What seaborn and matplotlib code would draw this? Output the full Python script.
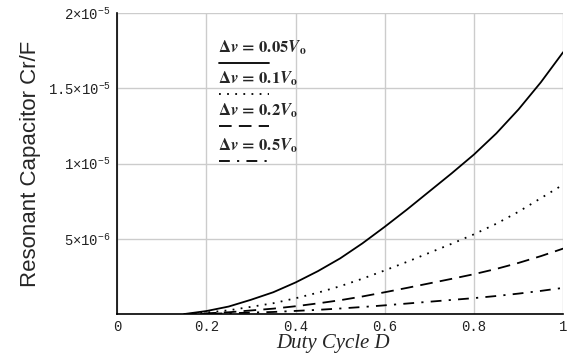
import numpy as np
import pandas as pd
import matplotlib
matplotlib.use('Agg')
import matplotlib.pyplot as plt
import seaborn as sns

duty = [0.15, 0.2, 0.25, 0.3, 0.35, 0.4, 0.45, 0.5, 0.55, 0.6,
        0.65, 0.7, 0.75, 0.8, 0.85, 0.9, 0.95, 1.0]

# resonant capacitor (uF) for each ripple level
cr_005 = [0.0, 0.2, 0.5, 0.95, 1.45, 2.1, 2.85, 3.7, 4.7, 5.8,
          6.95, 8.15, 9.35, 10.6, 12.0, 13.6, 15.4, 17.4]
cr_01 = [0.0, 0.1, 0.25, 0.48, 0.72, 1.05, 1.42, 1.85, 2.35, 2.9,
         3.47, 4.07, 4.67, 5.3, 6.0, 6.8, 7.7, 8.6]
cr_02 = [0.0, 0.05, 0.12, 0.24, 0.36, 0.52, 0.71, 0.92, 1.17, 1.45,
         1.74, 2.04, 2.34, 2.65, 3.0, 3.4, 3.85, 4.35]
cr_05 = [0.0, 0.02, 0.05, 0.1, 0.14, 0.21, 0.28, 0.37, 0.47, 0.58,
         0.7, 0.82, 0.94, 1.06, 1.2, 1.36, 1.54, 1.74]

series_names = ['0.05', '0.1', '0.2', '0.5']
legend_labels = [r'$\mathbf{\Delta}\mathbfit{v}\,\mathbf{=\,0.05}\mathbfit{V}_{\mathbf{o}}$',
                 r'$\mathbf{\Delta}\mathbfit{v}\,\mathbf{=\,0.1}\mathbfit{V}_{\mathbf{o}}$',
                 r'$\mathbf{\Delta}\mathbfit{v}\,\mathbf{=\,0.2}\mathbfit{V}_{\mathbf{o}}$',
                 r'$\mathbf{\Delta}\mathbfit{v}\,\mathbf{=\,0.5}\mathbfit{V}_{\mathbf{o}}$']

x_ticks = [0, 0.2, 0.4, 0.6, 0.8, 1]
x_tick_labels = ['0', '0.2', '0.4', '0.6', '0.8', '1']
y_ticks = [0, 5e-6, 1e-5, 1.5e-5, 2e-5]
y_tick_labels = ['', r'$5{\times}10^{-6}$', r'$1{\times}10^{-5}$',
                 r'$1.5{\times}10^{-5}$', r'$2{\times}10^{-5}$']

df = pd.DataFrame({
    'D': duty * 4,
    'Cr': [v * 1e-6 for v in cr_005 + cr_01 + cr_02 + cr_05],
    'dv': [n for n in series_names for _ in duty],
})

sns.set_style('white')
plt.rcParams['mathtext.fontset'] = 'custom'
plt.rcParams['mathtext.rm'] = 'Liberation Mono'
plt.rcParams['mathtext.it'] = 'Liberation Mono'

dash_styles = {'0.05': '', '0.1': (1, 3.5), '0.2': (7, 4), '0.5': (6, 4, 1.2, 4)}

fig = plt.figure(figsize=(5.8, 3.61), dpi=100)
ax = fig.add_axes([0.202, 0.130, 0.769, 0.834])

sns.lineplot(data=df, x='D', y='Cr', style='dv', dashes=dash_styles,
             color='black', linewidth=1.3, legend=False, ax=ax)

ax.set_xlim(0, 1)
ax.set_ylim(0, 2e-5)
ax.set_xticks(x_ticks)
ax.set_xticklabels(x_tick_labels, family='Liberation Mono', fontsize=10, color='#222222')
ax.set_yticks(y_ticks)
ax.set_yticklabels(y_tick_labels, fontsize=10, color='#222222')
ax.tick_params(axis='both', direction='inout', length=5, width=1, color='black', pad=2)
ax.grid(True, color='#cccccc', linewidth=1)
for s in ['top', 'right']:
    ax.spines[s].set_visible(False)
for s in ['left', 'bottom']:
    ax.spines[s].set_color('black')
    ax.spines[s].set_linewidth(1.2)

ax.set_ylabel('Resonant Capacitor Cr/F', family='Liberation Sans', fontsize=16, labelpad=4)
ax.yaxis.set_label_coords(-0.17, 0.5)
ax.set_xlabel('Duty Cycle D', family='Liberation Serif', style='italic', fontsize=15, labelpad=3)
ax.xaxis.set_label_coords(0.485, -0.065)

# hand-drawn legend: label above a short sample of each line style
text_y = [0.885, 0.78, 0.675, 0.56]
for lbl, name, ty in zip(legend_labels, series_names, text_y):
    ax.text(0.225, ty, lbl, transform=ax.transAxes, math_fontfamily='stix',
            fontsize=12, va='center', ha='left')
    ls = (0, dash_styles[name]) if dash_styles[name] else '-'
    ax.plot([0.228, 0.34], [ty - 0.05, ty - 0.05], transform=ax.transAxes,
            color='black', linewidth=1.3, linestyle=ls)

fig.savefig('out.png', dpi=100)
